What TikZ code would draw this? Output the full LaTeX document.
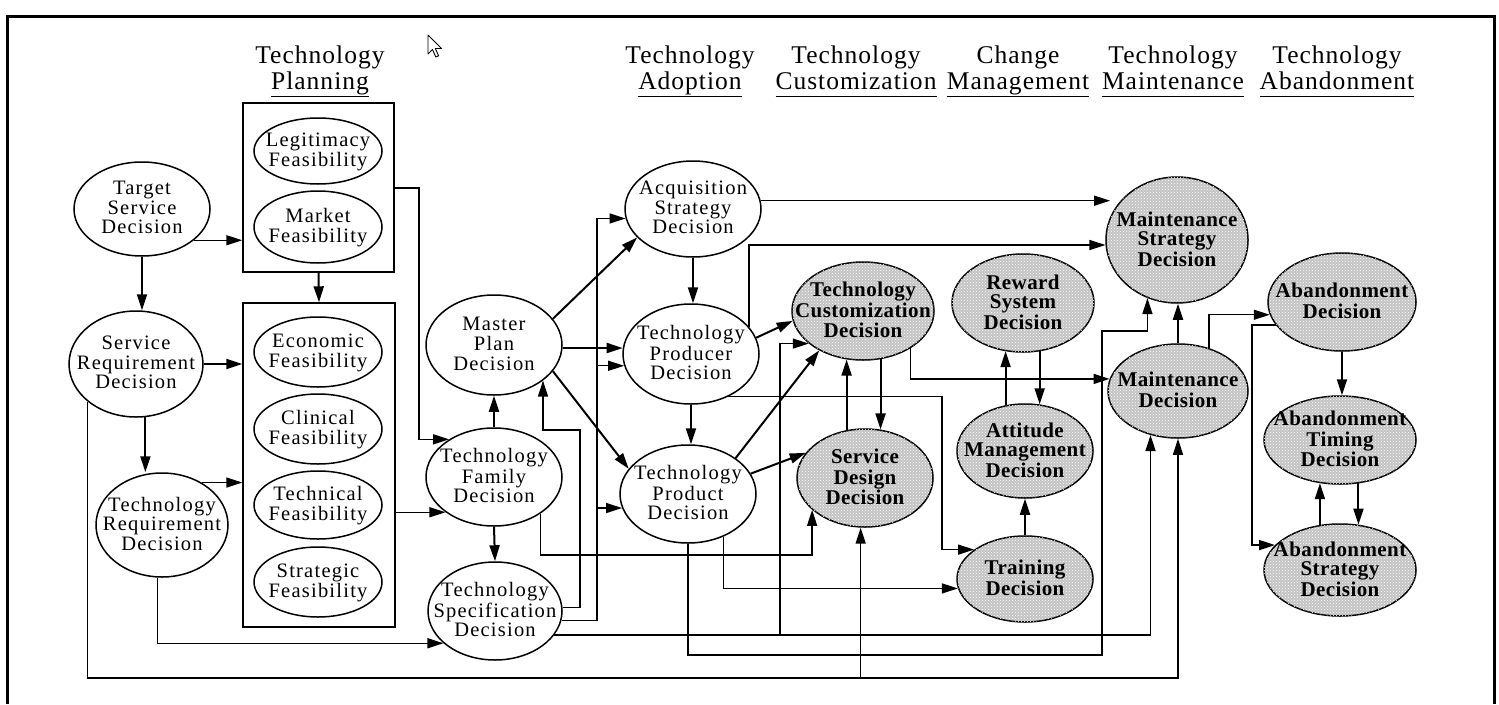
\documentclass[tikz,border=0pt]{standalone}
\usepackage{fontspec}
\setmainfont{Liberation Serif}
\newfontfamily\nodefont{Liberation Serif}[LetterSpace=6]
\newfontfamily\headfont{Liberation Serif}[LetterSpace=4]
\newfontfamily\gnodefont{Liberation Serif}[LetterSpace=2]
\usetikzlibrary{arrows.meta,shapes.geometric,patterns}

% multi-line label that takes no room, so the ellipse keeps its given size
\newcommand\lbl[1]{\makebox[0pt]{\smash{\raisebox{-0.33em}{\begin{tabular}{@{}c@{}}#1\end{tabular}}}}}
\newcommand\ul[1]{\underline{\vphantom{gp}#1}}

\tikzset{
  sz/.style 2 args={minimum width=#1pt, minimum height=#2pt},
  wnode/.style={ellipse, draw, line width=1.5pt, inner sep=0pt, fill=white,
    font=\nodefont\fontsize{20.5}{19.5}\selectfont},
  gnode/.style={ellipse, draw, line width=1.5pt, inner sep=0pt, fill=gray!47,
    postaction={pattern=crosshatch dots, pattern color=white},
    font=\gnodefont\bfseries\fontsize{21}{19.5}\selectfont},
  fbox/.style={draw, line width=1.4pt, inner sep=0pt},
  head/.style={font=\headfont\fontsize{25.5}{26}\selectfont, inner sep=0pt, anchor=base},
  con/.style={line width=1.4pt},
  arr/.style={line width=1.4pt, -{Triangle[length=16pt,width=10pt]}},
  tarr/.style={line width=2pt, -{Triangle[length=16pt,width=10pt]}},
}

\begin{document}
\begin{tikzpicture}[x=1pt, y=-1pt]
\useasboundingbox (0,0) rectangle (1499,704);

% frame
\draw[line width=3pt] (7,704) -- (7,16) -- (1494,16) -- (1494,704);

% pointer
\draw[line width=0.9pt, fill=white, line join=round]
  (428,35) -- ++(0,19) -- ++(4.5,-4.5) -- ++(3.3,7.5) -- ++(2.8,-1.2) -- ++(-3.3,-7.3) -- ++(6.2,0) -- cycle;

% phase headings
\node[head] (h1a) at (320,63) {Technology};
\node[head] (h1b) at (320,89) {\ul{Planning}};
\node[head] (h2a) at (690,63) {Technology};
\node[head] (h2b) at (690,89) {\ul{Adoption}};
\node[head] (h3a) at (856,63) {Technology};
\node[head] (h3b) at (856,89) {\ul{Customization}};
\node[head] (h4a) at (1018,63) {Change};
\node[head] (h4b) at (1018,89) {\ul{Management}};
\node[head] (h5a) at (1173,63) {Technology};
\node[head] (h5b) at (1173,89) {\ul{Maintenance}};
\node[head] (h6a) at (1337,63) {Technology};
\node[head] (h6b) at (1337,89) {\ul{Abandonment}};

% feasibility groups
\node[fbox, minimum width=151pt, minimum height=169pt] (box1) at (318.5,187.5) {};
\node[fbox, minimum width=152pt, minimum height=324pt] (box2) at (319,465) {};

% planning decisions
\node[wnode, sz={136}{94}]  (tsd) at (142,209) {\lbl{Target\\Service\\Decision}};
\node[wnode, sz={134}{106}] (srd) at (136,364) {\lbl{Service\\Requirement\\Decision}};
\node[wnode, sz={132}{104}] (trd) at (162,525) {\lbl{Technology\\Requirement\\Decision}};
\node[wnode, sz={128}{66}]  (leg) at (318,151) {\lbl{Legitimacy\\Feasibility}};
\node[wnode, sz={128}{72}]  (mkt) at (318,227) {\lbl{Market\\Feasibility}};
\node[wnode, sz={128}{70}]  (eco) at (318,352) {\lbl{Economic\\Feasibility}};
\node[wnode, sz={128}{70}]  (cli) at (318,429) {\lbl{Clinical\\Feasibility}};
\node[wnode, sz={128}{68}]  (tec) at (318,505) {\lbl{Technical\\Feasibility}};
\node[wnode, sz={128}{70}]  (str) at (318,582) {\lbl{Strategic\\Feasibility}};
\node[wnode, sz={136}{100}] (mpd) at (494,345) {\lbl{Master\\Plan\\Decision}};
\node[wnode, sz={136}{98}]  (tfd) at (494,477) {\lbl{Technology\\Family\\Decision}};
\node[wnode, sz={134}{98}]  (tsp) at (495,611) {\lbl{Technology\\Specification\\Decision}};

% adoption decisions
\node[wnode, sz={136}{96}]  (asd) at (693,209) {\lbl{Acquisition\\Strategy\\Decision}};
\node[wnode, sz={136}{100}] (tpr) at (691,354) {\lbl{Technology\\Producer\\Decision}};
\node[wnode, sz={136}{98}]  (tpd) at (688,494) {\lbl{Technology\\Product\\Decision}};

% customization, change, maintenance, abandonment
\node[gnode, sz={142}{98}]  (tcd) at (863,311) {\lbl{Technology\\Customization\\Decision}};
\node[gnode, sz={136}{98}]  (sdd) at (865,478) {\lbl{Service\\Design\\Decision}};
\node[gnode, sz={142}{98}]  (rsd) at (1023,303) {\lbl{Reward\\System\\Decision}};
\node[gnode, sz={136}{94}]  (amd) at (1025,451) {\lbl{Attitude\\Management\\Decision}};
\node[gnode, sz={136}{86}]  (trn) at (1025,579) {\lbl{Training\\Decision}};
\node[gnode, sz={142}{126}] (msd) at (1177,240) {\lbl{Maintenance\\Strategy\\Decision}};
\node[gnode, sz={140}{94}]  (mnd) at (1178,391) {\lbl{Maintenance\\Decision}};
\node[gnode, sz={148}{98}]  (abd) at (1342,302) {\lbl{Abandonment\\Decision}};
\node[gnode, sz={152}{88}]  (atd) at (1340,440) {\lbl{Abandonment\\Timing\\Decision}};
\node[gnode, sz={152}{92}]  (asg) at (1340,570) {\lbl{Abandonment\\Strategy\\Decision}};

% ---- planning connectors
\draw[arr] (tsd.-31) -- (tsd.-31 -| box1.west);
\draw[tarr] (tsd.south) -- (tsd.south |- srd.north);
\draw[tarr] (srd.east) -- (srd.east -| box2.west);
\draw[tarr] (srd.-80) -- (srd.-80 |- trd.north);
\draw[arr] (trd.47) -- (trd.47 -| box2.west);
\draw[arr] (srd.-142) |- (sdd.-95 |- 0,678) -- (sdd.-95);
\draw[arr] (srd.-142) |- (mnd.south |- 0,678) -- (mnd.south);
\draw[arr] (trd.-95) |- (tsp.-148);
\draw[tarr] (box1.south) -- (box2.north);
\draw[arr] (box1.east |- 0,188) -| (tfd.140 -| 419,0) -- (tfd.140);
\draw[arr] (tfd.-144 -| box2.east) -- (tfd.-144);
\draw[tarr] (tfd.north) -- (mpd.south);
\draw[tarr] (tfd.south) -- (tsp.north);
\draw[arr] (tfd.-38) |- (sdd.-149 |- 0,555) -- (sdd.-149);
\draw[arr] (tsp.3) -| (580,430) -| (mpd.-36);
\draw[arr] (tsp.-8) -| (asd.-172 -| 597,0) -- (asd.-172);
\draw[arr] (tpr.-170 -| 597,0) -- (tpr.-170);
\draw[arr] (tpd.-168 -| 597,0) -- (tpd.-168);

% ---- adoption connectors
\draw[tarr] (mpd.24) -- (asd.-153);
\draw[tarr] (mpd.east |- tpr.175) -- (tpr.175);
\draw[tarr] (mpd.-24) -- (tpd.157);
\draw[tarr] (asd.south) -- (asd.south |- tpr.north);
\draw[tarr] (tpr.south) -- (tpr.south |- tpd.north);
\draw[arr] (asd.7) -- (msd.161 |- asd.7);
\draw[arr] (tpr.25) |- (msd.-176);
\draw[tarr] (tpr.14) -- (tcd.-172);
\draw[arr] (tsp.-22) -| (tcd.-149 -| 780,0) -- (tcd.-149);
\draw[arr] (tsp.-22) -| (mnd.-122);
\draw[tarr] (tpd.37) -- (tcd.-138);
\draw[tarr] (tpd.18) -- (sdd.157);
\draw[arr] (tpd.south) |- (1102,655) |- (msd.-117 |- 0,331) -- (msd.-117);
\draw[arr] (tpd.-50) |- (trn.-172);
\draw[arr] (tpr.-49) -| (trn.150 -| 942,0) -- (trn.150);

% ---- customization, change, maintenance, abandonment connectors
\draw[tarr] (tcd.-70) -- (tcd.-70 |- sdd.73);
\draw[tarr] (sdd.111) -- (sdd.111 |- tcd.-108);
\draw[arr] (tcd.-38) |- (mnd.170);
\draw[tarr] (amd.113) -- (amd.113 |- rsd.-110);
\draw[tarr] (rsd.-71) -- (rsd.-71 |- amd.73);
\draw[tarr] (trn.north) -- (amd.south);
\draw[tarr] (mnd.north) -- (mnd.north |- msd.south);
\draw[arr] (mnd.54) |- (abd.-170);
\draw[arr] (abd.-161) -| (asg.159 -| 1252,0) -- (asg.159);
\draw[tarr] (abd.south) -- (abd.south |- atd.north);
\draw[tarr] (asg.114) -- (asg.114 |- atd.-115);
\draw[tarr] (atd.-67) -- (atd.-67 |- asg.68);
\end{tikzpicture}
\end{document}
